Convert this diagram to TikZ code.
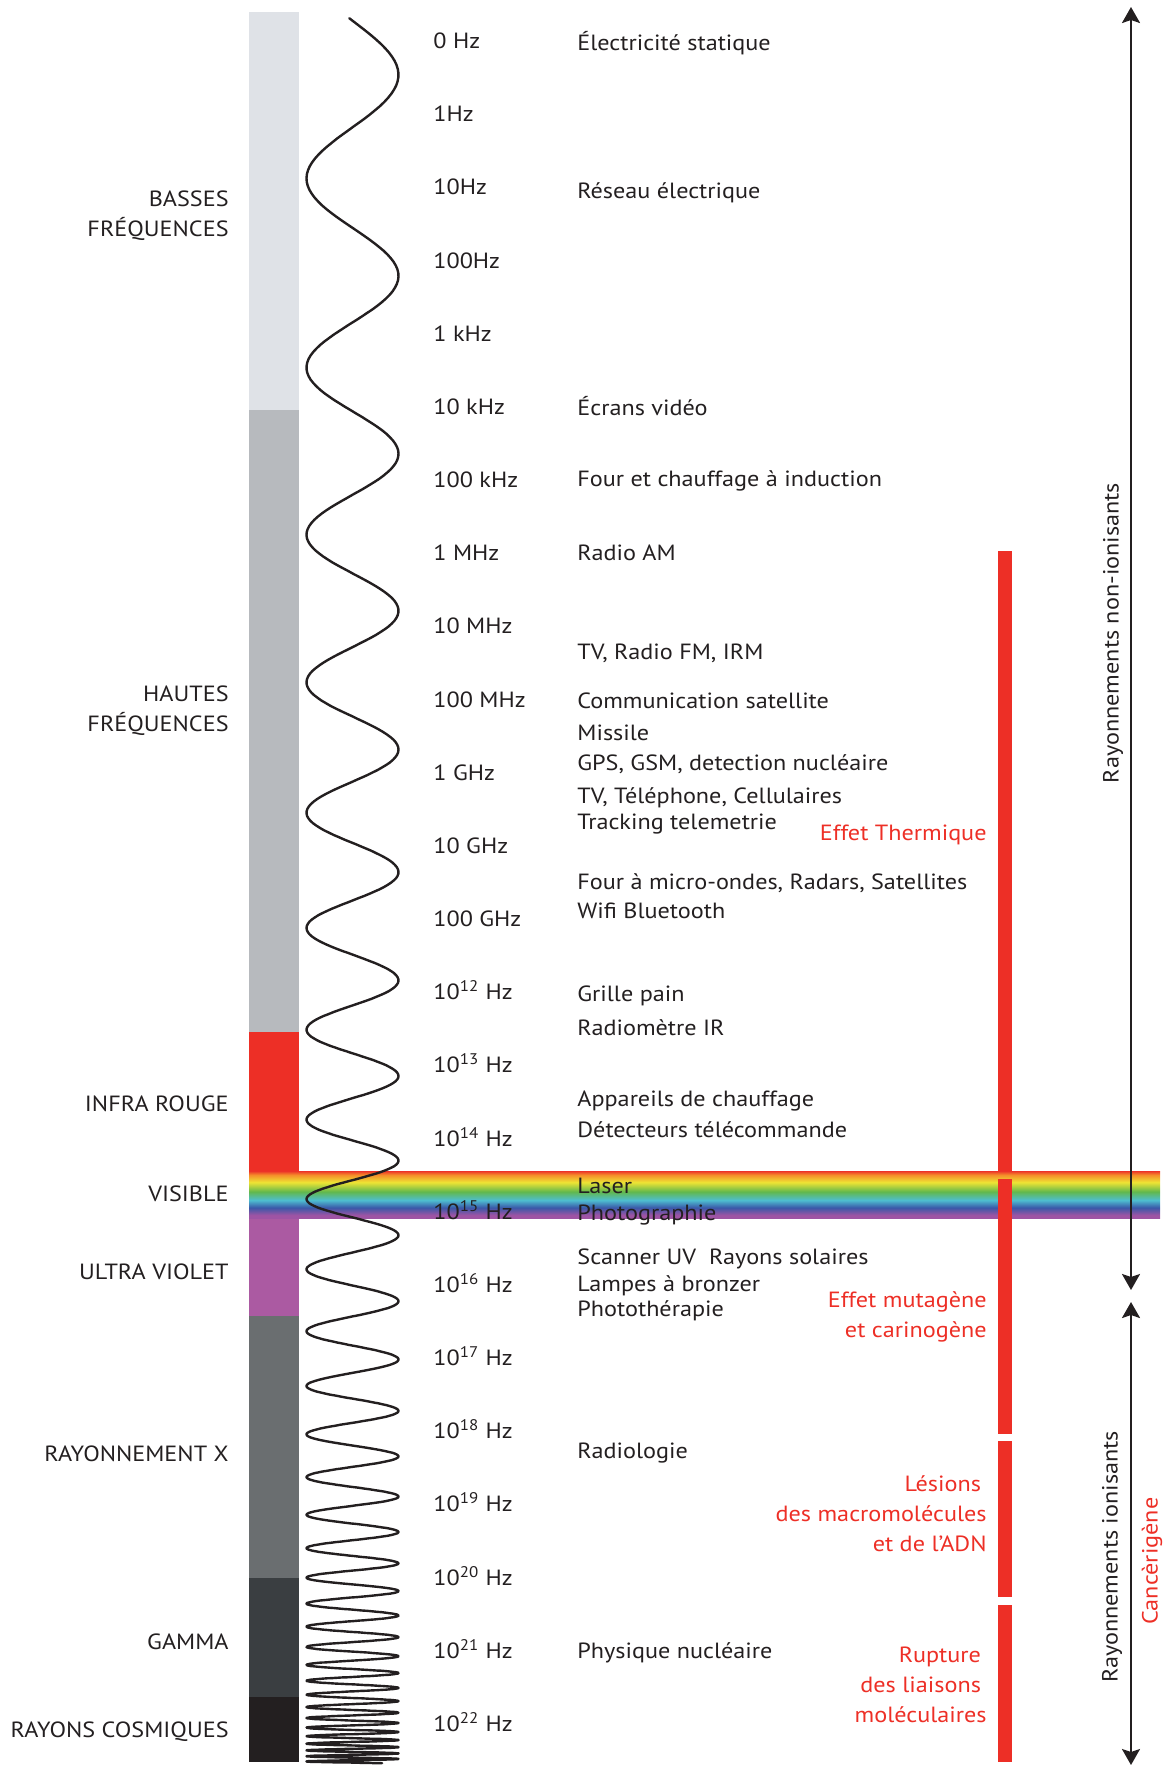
\documentclass[tikz,border=0pt]{standalone}
\usepackage{fontspec}
\setmainfont{PT Sans}[FakeStretch=1.1]
\usetikzlibrary{arrows.meta}
\definecolor{inkcolor}{RGB}{35,31,32}
\definecolor{bassecolor}{RGB}{223,226,231}
\definecolor{hautecolor}{RGB}{183,186,190}
\definecolor{effetred}{RGB}{237,47,38}
\definecolor{uvcolor}{RGB}{171,90,162}
\definecolor{xraycolor}{RGB}{106,110,112}
\definecolor{gammacolor}{RGB}{58,62,65}
\definecolor{cosmiccolor}{RGB}{35,31,32}
% colours of the visible band, top to bottom
\definecolor{rbred}{RGB}{236,50,40}
\definecolor{rborange}{RGB}{245,140,42}
\definecolor{rbyellow}{RGB}{238,228,52}
\definecolor{rbgreen}{RGB}{98,184,76}
\definecolor{rbcyan}{RGB}{78,190,208}
\definecolor{rbblue}{RGB}{58,88,168}
\definecolor{rbpurple}{RGB}{158,84,164}
\pgfdeclareverticalshading{visibleband}{100bp}{%
  color(0bp)=(rbpurple); color(28bp)=(rbpurple); color(36bp)=(rbblue);
  color(44bp)=(rbcyan); color(53bp)=(rbgreen); color(63bp)=(rbyellow);
  color(71bp)=(rborange); color(75bp)=(rbred); color(100bp)=(rbred)}
\tikzset{
    spectrum/.style={
        x=0.5pt, y=-0.5pt,
        line cap = round, line join = round,
        every node/.style={inner sep=0pt, text=inkcolor,
          font=\fontsize{11pt}{15pt}\selectfont},
    },
    freqlabel/.style={anchor=base west},
    applabel/.style={anchor=base west},
    bandlabel/.style={anchor=base east, align=right},
    effetlabel/.style={anchor=base east, align=right, text=effetred},
    rangelabel/.style={rotate=90},
    rangearrow/.style={{Stealth[length=8pt,width=9pt,inset=1.5pt]}-{Stealth[length=8pt,width=9pt,inset=1.5pt]},
        line width=1.15pt, draw=inkcolor, line cap=butt},
    wave/.style={line width=1.2pt, draw=inkcolor},
}
% one slice of the band on the left
\newcommand{\bandseg}[3]{\fill[#1] (249,#2) rectangle (299,#3);}
% one piece of the red bar of effects
\newcommand{\effetseg}[2]{\fill[effetred] (998,#1) rectangle (1012,#2);}
% trailing gap that align=right would otherwise drop
\newcommand{\tailgap}{\kern2.8pt}

\begin{document}
\begin{tikzpicture}[spectrum]
\useasboundingbox (0,0) rectangle (1167,1767);
\bandseg{bassecolor}{12}{410}
\bandseg{hautecolor}{410}{1032}
\bandseg{effetred}{1032}{1180}
\bandseg{uvcolor}{1200}{1316}
\bandseg{xraycolor}{1316}{1578}
\bandseg{gammacolor}{1578}{1697}
\bandseg{cosmiccolor}{1697}{1762}
\effetseg{551}{1171}
% visible light across the whole width
\shade[shading=visibleband] (249,1171) rectangle (1160,1218);
\effetseg{1179}{1434}
\effetseg{1441}{1597}
\effetseg{1605}{1762}
% wave, shorter and shorter going down
\draw[wave] plot[domain=-4:11200, samples=1600, variable=\t]
  ({352.5+46*sin(\t)}, {(111.64-106.99*exp(-0.062*(\t-90)/180))/0.062});

\foreach \lbl [count=\i from 0] in {0 Hz, 1Hz, 10Hz, 100Hz, 1 kHz, 10 kHz,
    100 kHz, 1 MHz, 10 MHz, 100 MHz, 1 GHz, 10 GHz, 100 GHz,
    10\textsuperscript{12} Hz, 10\textsuperscript{13} Hz, 10\textsuperscript{14} Hz,
    10\textsuperscript{15} Hz, 10\textsuperscript{16} Hz, 10\textsuperscript{17} Hz,
    10\textsuperscript{18} Hz, 10\textsuperscript{19} Hz, 10\textsuperscript{20} Hz,
    10\textsuperscript{21} Hz, 10\textsuperscript{22} Hz}
  \node[freqlabel] (f\i) at (433,{48.5+73.17*\i}) {\lbl};

\foreach \y/\txt [count=\i] in {50/{Électricité statique}, 198/{Réseau électrique},
    415/{Écrans vidéo}, 486/{Four et chauffage à induction}, 560/{Radio AM},
    659/{TV, Radio FM, IRM}, 708/{Communication satellite}, 740/{Missile},
    770/{GPS, GSM, detection nucléaire}, 803/{TV, Téléphone, Cellulaires},
    829/{Tracking telemetrie}, 889/{Four à micro-ondes, Radars, Satellites},
    918/{Wifi Bluetooth}, 1001/{Grille pain}, 1035/{Radiomètre IR},
    1106/{Appareils de chauffage}, 1137/{Détecteurs télécommande},
    1193/{Laser}, 1220/{Photographie}, 1264/{Scanner UV~ Rayons solaires},
    1291/{Lampes à bronzer}, 1316/{Photothérapie}, 1458/{Radiologie},
    1658/{Physique nucléaire}}
  \node[applabel] (a\i) at (577,\y) {\txt};

% base of a node on several lines is that of its last line
\node[bandlabel] (basses) at (229,236) {BASSES\\FRÉQUENCES};
\node[bandlabel] (hautes) at (229,731) {HAUTES\\FRÉQUENCES};
\node[bandlabel] (infra) at (229,1111) {INFRA ROUGE};
\node[bandlabel] (visible) at (229,1201) {VISIBLE};
\node[bandlabel] (ultra) at (229,1279) {ULTRA VIOLET};
\node[bandlabel] (xray) at (229,1461) {RAYONNEMENT X};
\node[bandlabel] (gamma) at (229,1649) {GAMMA};
\node[bandlabel] (cosmic) at (229,1737) {RAYONS COSMIQUES};

\node[effetlabel] (thermique) at (987,840) {Effet Thermique};
\node[effetlabel] (mutagene) at (987,1337) {Effet mutagène\\et carinogène};
\node[effetlabel] (lesions) at (987,1551) {Lésions\tailgap\\des macromolécules\\et de l’ADN};
\node[effetlabel] (rupture) at (987,1722) {Rupture\tailgap\\des liaisons\tailgap\\moléculaires};

\coordinate (nitop) at (1131,7);
\coordinate (nibot) at (1131,1290);
\coordinate (itop) at (1131,1302);
\coordinate (ibot) at (1131,1765);
\draw[rangearrow] (nitop) -- (nibot);
\draw[rangearrow] (itop) -- (ibot);
\node[rangelabel] (nonion) at (1113,633) {Rayonnements non-ionisants};
\node[rangelabel] (ion) at (1112,1557) {Rayonnements ionisants};
\node[rangelabel, text=effetred] (cancer) at (1152,1561) {Cancèrigène};
\end{tikzpicture}
\end{document}
